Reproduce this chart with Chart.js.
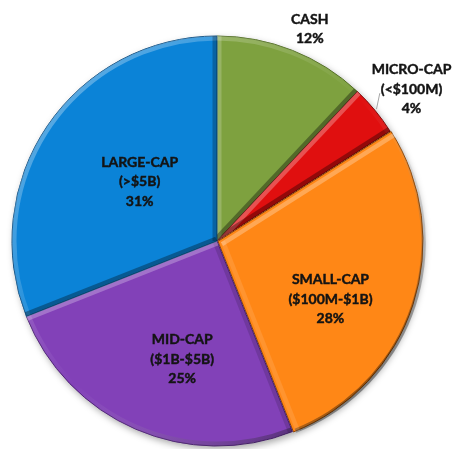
<!DOCTYPE html>
<html>
<head>
<meta charset="utf-8">
<script src="https://cdn.jsdelivr.net/npm/chart.js@4"></script>
<style>
  html, body { margin: 0; padding: 0; background: #fff; }
  #wrap { width: 459px; height: 449px; }
</style>
</head>
<body>
<div id="wrap"><canvas id="chart-alloc" width="459" height="449"></canvas></div>
<script>
// ---- Data ----
const categories = ['CASH', 'MICRO-CAP', 'SMALL-CAP', 'MID-CAP', 'LARGE-CAP']
const ranges     = ['', '(<$100M)', '($100M-$1B)', '($1B-$5B)', '(>$5B)']
const shares     = [12, 4, 28, 25, 31]

// ---- Styling ----
const colors      = ['#7ea13f', '#e00f0f', '#ff8716', '#8241b8', '#0b83d7']
const edgeColors  = ['#4d6a1e', '#7a0505', '#8a4200', '#4a1f72', '#064a80']
const sliceOffset = [0, 0, 4, 0, 0]
// label anchor: fraction of radius along the mid angle, then a nudge in px
const labelRadius = [1.15, 1.2, 0.7, 0.55, 0.48]
const labelNudge  = [[6, 7], [5, 5], [-23, 14], [10, 15], [4, -4]]
const leaderLine  = [false, true, false, false, false]
const FONT = 'bold 14px Lato, "Open Sans", sans-serif'

function arcGeom(arc, i) {
  const p = arc.getProps(['x', 'y', 'startAngle', 'endAngle', 'outerRadius'])
  const mid = (p.startAngle + p.endAngle) / 2
  const off = sliceOffset[i]
  return { ...p, mid, cx: p.x + Math.cos(mid) * off, cy: p.y + Math.sin(mid) * off }
}

// soft drop shadow behind the whole pie
const shadowPlugin = {
  id: 'pieShadow',
  beforeDatasetsDraw(chart) {
    const arc = chart.getDatasetMeta(0).data[0]
    if (!arc) return
    const { x, y, outerRadius } = arc.getProps(['x', 'y', 'outerRadius'])
    const ctx = chart.ctx
    ctx.save()
    ctx.shadowColor = 'rgba(0,0,0,0.35)'
    ctx.shadowBlur = 7
    ctx.shadowOffsetX = 2
    ctx.shadowOffsetY = 3
    ctx.fillStyle = '#fff'
    ctx.beginPath()
    ctx.arc(x, y, outerRadius, 0, Math.PI * 2)
    ctx.fill()
    ctx.restore()
  }
}

// bevel: light from top-left, dark toward bottom-right
const bevelPlugin = {
  id: 'bevel',
  afterDatasetsDraw(chart) {
    const ctx = chart.ctx
    const L = [-Math.SQRT1_2, -Math.SQRT1_2]
    const shade = b => b >= 0 ? `rgba(255,255,255,${(0.28 * b).toFixed(3)})` : `rgba(0,0,0,${(-0.35 * b).toFixed(3)})`
    chart.getDatasetMeta(0).data.forEach((arc, i) => {
      const g = arcGeom(arc, i)
      const r = g.outerRadius
      ctx.save()
      ctx.beginPath()
      ctx.moveTo(g.cx, g.cy)
      ctx.arc(g.cx, g.cy, r, g.startAngle, g.endAngle)
      ctx.closePath()
      ctx.clip()
      ctx.lineWidth = 9
      // outer rim
      const grad = ctx.createLinearGradient(g.cx - r * 0.7, g.cy - r * 0.7, g.cx + r * 0.7, g.cy + r * 0.7)
      grad.addColorStop(0, 'rgba(255,255,255,0.3)')
      grad.addColorStop(0.5, 'rgba(255,255,255,0)')
      grad.addColorStop(1, 'rgba(0,0,0,0.38)')
      ctx.strokeStyle = grad
      ctx.beginPath()
      ctx.arc(g.cx, g.cy, r, g.startAngle, g.endAngle)
      ctx.stroke()
      // radial edges
      const edges = [[g.startAngle, g.startAngle - Math.PI / 2], [g.endAngle, g.endAngle + Math.PI / 2]]
      for (const [a, n] of edges) {
        const b = Math.cos(n) * L[0] + Math.sin(n) * L[1]
        ctx.strokeStyle = shade(b)
        ctx.beginPath()
        ctx.moveTo(g.cx, g.cy)
        ctx.lineTo(g.cx + Math.cos(a) * r, g.cy + Math.sin(a) * r)
        ctx.stroke()
      }
      ctx.restore()
    })
  }
}

// slice labels (category, range, percent)
const labelPlugin = {
  id: 'sliceLabels',
  afterDatasetsDraw(chart) {
    const ctx = chart.ctx
    ctx.save()
    ctx.font = FONT
    ctx.textAlign = 'center'
    ctx.textBaseline = 'middle'
    ctx.fillStyle = '#141414'
    ctx.strokeStyle = '#141414'
    ctx.lineWidth = 0.45
    chart.getDatasetMeta(0).data.forEach((arc, i) => {
      const g = arcGeom(arc, i)
      const lx = g.x + Math.cos(g.mid) * g.outerRadius * labelRadius[i] + labelNudge[i][0]
      const ly = g.y + Math.sin(g.mid) * g.outerRadius * labelRadius[i] + labelNudge[i][1]
      const lines = [categories[i], ranges[i], shares[i] + '%'].filter(Boolean)
      const lh = 19.5
      const top = ly - (lines.length - 1) * lh / 2
      lines.forEach((t, k) => {
        ctx.fillText(t, lx, top + k * lh)
        ctx.strokeText(t, lx, top + k * lh)
      })

      if (leaderLine[i]) {
        const w = ctx.measureText(lines[1]).width
        ctx.save()
        ctx.strokeStyle = '#a6a6a6'
        ctx.lineWidth = 1
        ctx.beginPath()
        ctx.moveTo(g.cx + Math.cos(g.mid) * (g.outerRadius + 2), g.cy + Math.sin(g.mid) * (g.outerRadius + 2))
        ctx.lineTo(lx - w / 2 - 1, top + lh + 4)
        ctx.stroke()
        ctx.restore()
      }
    })
    ctx.restore()
  }
}

new Chart(document.getElementById('chart-alloc'), {
  type: 'pie',
  data: {
    labels: categories,
    datasets: [{
      data: shares,
      backgroundColor: colors,
      borderColor: edgeColors,
      borderWidth: 1,
      hoverBorderWidth: 1,
      offset: sliceOffset,
      hoverOffset: 0
    }]
  },
  options: {
    responsive: false,
    animation: false,
    layout: { padding: { left: 9.5, top: 33.5, right: 34.5, bottom: 0.5 } },
    plugins: { legend: { display: false }, tooltip: { enabled: false } }
  },
  plugins: [shadowPlugin, bevelPlugin, labelPlugin]
})
</script>
</body>
</html>
